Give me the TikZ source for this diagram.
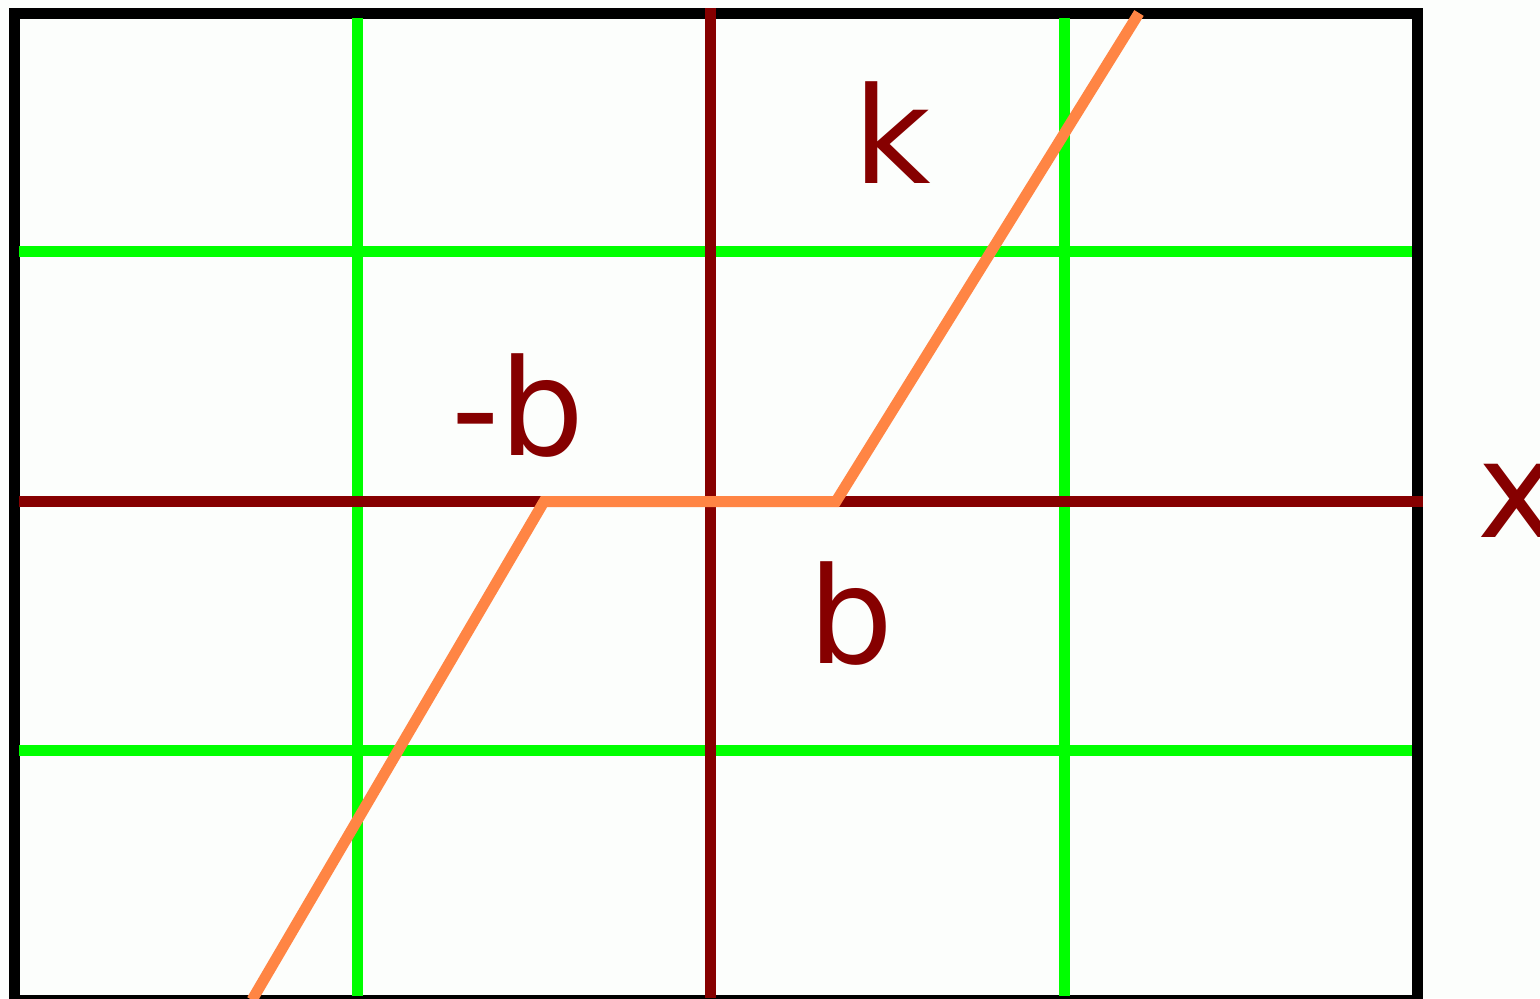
\documentclass[tikz,border=0pt]{standalone}
\usepackage{fontspec}
\setmainfont{DejaVu Sans}
\definecolor{axred}{RGB}{134,0,0}
\definecolor{gridgreen}{RGB}{0,255,0}
\definecolor{curveorange}{RGB}{255,133,68}
\definecolor{paper}{RGB}{252,254,252}
\begin{document}
\begin{tikzpicture}[x=0.5pt,y=-0.5pt,
  gridline/.style={draw=gridgreen,line width=5.5pt},
  axisline/.style={draw=axred,line width=5.5pt},
  curveline/.style={draw=curveorange,line width=5.5pt,line join=miter},
  framebox/.style={draw=black,line width=5.5pt},
  lbl/.style={text=axred,font=\fontsize{67}{67}\selectfont,inner sep=0pt,anchor=base}]
\useasboundingbox (0,0) rectangle (1540,998);
\clip (0,0) rectangle (1540,998);
\fill[paper] (0,0) rectangle (1540,998);
% frame
\draw[framebox] (14,13) rectangle (1417.5,1000.5);
% green grid
\draw[gridline] (357,18) -- (357,996);
\draw[gridline] (1064,18) -- (1064,996);
\draw[gridline] (19,251.5) -- (1412,251.5);
\draw[gridline] (19,750.5) -- (1412,750.5);
% axes
\coordinate (ytop) at (710.5,8);
\coordinate (ybot) at (710.5,998);
\coordinate (xleft) at (19,501.5);
\coordinate (xright) at (1423,501.5);
\draw[axisline] (ytop) -- (ybot);
\draw[axisline] (xleft) -- (xright);
% curve
\coordinate (c1) at (252,1000);
\coordinate (c2) at (544,501.5);
\coordinate (c3) at (836,501.5);
\coordinate (c4) at (1139,13);
\draw[curveline] (c1) -- (c2) -- (c3) -- (c4);
% labels
\node[lbl] (k) at (892,183) {k};
\node[lbl] (mb) at (518,455) {-b};
\node[lbl] (b) at (851,663) {b};
\node[lbl] (x) at (1517,537) {x};
\end{tikzpicture}
\end{document}
